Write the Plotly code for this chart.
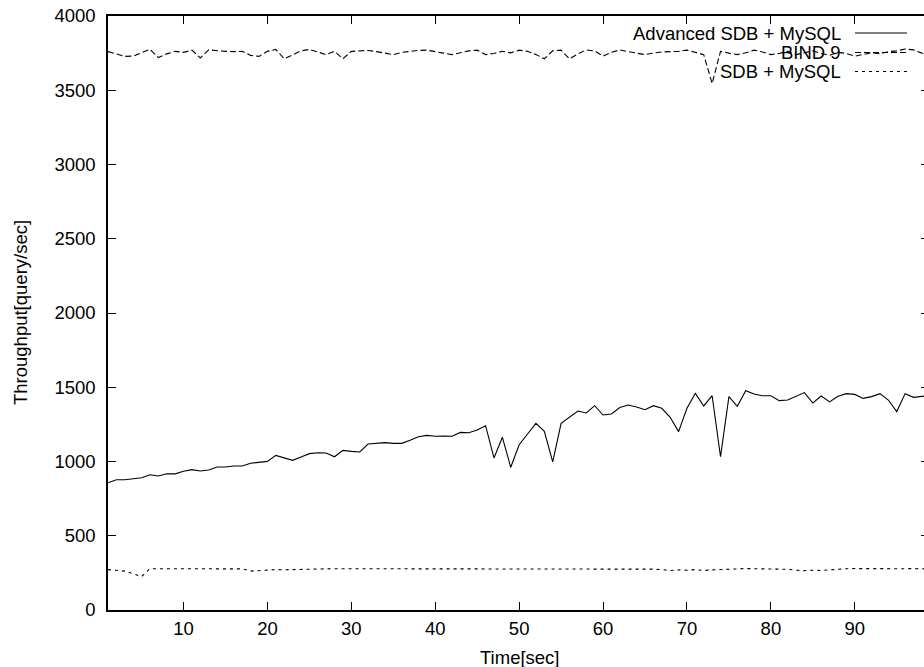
import plotly.graph_objects as go

# ---------------- data ----------------
time_sec = list(range(1, 100))

advanced_sdb_mysql = [
    857, 877, 877, 884, 891, 911, 902, 918, 917, 934,
    945, 936, 943, 963, 963, 970, 970, 988, 994, 1001,
    1041, 1026, 1008, 1030, 1053, 1059, 1057, 1032, 1075, 1068,
    1064, 1118, 1122, 1127, 1122, 1122, 1143, 1167, 1176, 1170,
    1172, 1170, 1196, 1194, 1212, 1241, 1024, 1163, 961, 1113,
    1185, 1257, 1203, 997, 1257, 1298, 1340, 1327, 1376, 1313,
    1320, 1363, 1380, 1367, 1349, 1376, 1358, 1298, 1201, 1358,
    1459, 1374, 1443, 1032, 1437, 1372, 1477, 1455, 1443, 1443,
    1410, 1414, 1441, 1464, 1394, 1441, 1401, 1439, 1457, 1452,
    1425, 1437, 1457, 1414, 1336, 1457, 1432, 1437, 1445,
]

bind9 = [
    3760, 3745, 3728, 3730, 3750, 3775, 3720, 3745, 3762, 3755,
    3770, 3718, 3772, 3765, 3762, 3760, 3762, 3735, 3728, 3762,
    3775, 3712, 3740, 3765, 3775, 3760, 3740, 3762, 3712, 3762,
    3765, 3768, 3760, 3750, 3740, 3755, 3762, 3768, 3770, 3762,
    3750, 3740, 3752, 3765, 3770, 3740, 3748, 3762, 3752, 3770,
    3762, 3740, 3712, 3765, 3770, 3712, 3745, 3772, 3765, 3730,
    3755, 3772, 3760, 3752, 3740, 3750, 3758, 3760, 3762, 3770,
    3755, 3740, 3545, 3762, 3750, 3740, 3752, 3770, 3758, 3740,
    3748, 3762, 3740, 3755, 3765, 3748, 3735, 3755, 3748, 3730,
    3740, 3752, 3745, 3760, 3765, 3778, 3772, 3750, 3745,
]

sdb_mysql = [
    272, 268, 262, 245, 225, 278, 278, 279, 278, 278,
    279, 278, 278, 279, 278, 278, 277, 262, 266, 270,
    272, 271, 273, 274, 275, 276, 277, 278, 278, 279,
    278, 277, 276, 277, 278, 279, 278, 277, 276, 278,
    279, 278, 276, 275, 276, 278, 279, 278, 277, 278,
    279, 278, 278, 279, 278, 277, 278, 279, 278, 278,
    278, 279, 278, 277, 276, 275, 272, 266, 270, 268,
    272, 266, 270, 273, 276, 278, 279, 278, 278, 277,
    276, 274, 268, 265, 268, 266, 270, 275, 278, 279,
    278, 279, 278, 277, 276, 278, 279, 278, 276,
]

series_names = ["Advanced SDB + MySQL", "BIND 9", "SDB + MySQL"]
x_ticks = [10, 20, 30, 40, 50, 60, 70, 80, 90]
y_ticks = [0, 500, 1000, 1500, 2000, 2500, 3000, 3500, 4000]

# ---------------- layout geometry ----------------
W, H = 924, 667
ML, MR, MT, MB = 108, 0, 16, 57
PW, PH = W - ML - MR, H - MT - MB


def px(xpix):
    return (xpix - ML) / PW


def py(ypix):
    return (H - MB - ypix) / PH


FONT = "Liberation Sans, Arial, Helvetica, sans-serif"
FS = 18.5
dashes = ["solid", "6px,3px", "3px,4px"]
series = [advanced_sdb_mysql, bind9, sdb_mysql]

fig = go.Figure()
for name, vals, dash in zip(series_names, series, dashes):
    fig.add_trace(go.Scatter(
        x=time_sec, y=vals, mode="lines", name=name,
        line=dict(color="black", width=1.1, dash=dash),
        showlegend=False, hoverinfo="x+y+name",
    ))

# dummy trace for right-side mirror ticks on y2
fig.add_trace(go.Scatter(x=[None], y=[None], yaxis="y2", showlegend=False))

# legend (gnuplot style: text right-aligned, sample to the right)
legend_y = [33, 52.5, 71.5]
shapes = []
annotations = []
for name, dash, ly in zip(series_names, dashes, legend_y):
    annotations.append(dict(
        x=px(843), y=py(ly), xref="paper", yref="paper",
        text=name, showarrow=False, xanchor="right", yanchor="middle",
        font=dict(family=FONT, size=FS, color="black"),
    ))
    shapes.append(dict(
        type="line", xref="paper", yref="paper",
        x0=px(855), x1=px(907), y0=py(ly), y1=py(ly),
        line=dict(color="black", width=1.1, dash=dash),
    ))

# axis titles
annotations.append(dict(
    x=px(519.5), y=py(657), xref="paper", yref="paper", text="Time[sec]",
    showarrow=False, xanchor="center", yanchor="middle",
    font=dict(family=FONT, size=FS, color="black"),
))
annotations.append(dict(
    x=px(20), y=py(313), xref="paper", yref="paper", text="Throughput[query/sec]",
    showarrow=False, xanchor="center", yanchor="middle", textangle=-90,
    font=dict(family=FONT, size=FS, color="black"),
))

fig.update_layout(
    width=W, height=H,
    margin=dict(l=ML, r=MR, t=MT, b=MB, pad=0),
    paper_bgcolor="white", plot_bgcolor="white",
    font=dict(family=FONT, size=FS, color="black"),
    xaxis=dict(
        range=[1, 98.25], tickvals=x_ticks, ticktext=[str(v) for v in x_ticks],
        ticks="inside", ticklen=8, tickwidth=1, tickcolor="black",
        showline=True, linecolor="black", linewidth=1.5, mirror="ticks",
        showgrid=False, zeroline=False, ticklabelstandoff=1,
        tickfont=dict(family=FONT, size=FS, color="black"),
    ),
    yaxis=dict(
        range=[0, 4000], tickvals=y_ticks, ticktext=[str(v) for v in y_ticks],
        ticks="inside", ticklen=8, tickwidth=1, tickcolor="black",
        showline=True, linecolor="black", linewidth=1.5, mirror=False,
        showgrid=False, zeroline=False, ticklabelstandoff=7,
        tickfont=dict(family=FONT, size=FS, color="black"),
    ),
    yaxis2=dict(
        range=[0, 4000], tickvals=y_ticks, overlaying="y", side="right",
        ticks="inside", ticklen=3, tickwidth=1, tickcolor="black",
        showticklabels=False, showline=False, showgrid=False, zeroline=False,
    ),
    shapes=shapes,
    annotations=annotations,
    showlegend=False,
)

fig.write_html(
    "out.html",
    config={"displayModeBar": False},
    post_script="document.body.style.margin='0px';document.body.style.overflow='hidden';",
)
